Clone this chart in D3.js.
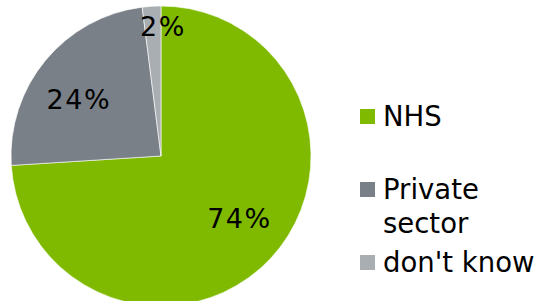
<!DOCTYPE html>
<html>
<head>
<meta charset="utf-8">
<script src="https://cdn.jsdelivr.net/npm/d3@7"></script>
<style>
  body { margin: 0; background: #fff; }
  svg { display: block; font-family: "DejaVu Sans", Verdana, sans-serif; }
</style>
</head>
<body>
<svg id="chart" width="540" height="301"></svg>
<script>
const categories = ['NHS', 'Private sector', "don't know"];
const values = [74, 24, 2];
const labels = ['74%', '24%', '2%'];
const legendLines = [['NHS'], ['Private', 'sector'], ["don't know"]];
const colors = ['#7fba00', '#798087', '#a9aeb2'];

const svg = d3.select('#chart');
const cx = 161, cy = 156, radius = 150;

const pie = d3.pie().sort(null).value(d => d)(values);
const arc = d3.arc().innerRadius(0).outerRadius(radius);
const g = svg.append('g').attr('transform', 'translate(' + cx + ',' + cy + ')');

g.selectAll('path')
  .data(pie)
  .enter()
  .append('path')
  .attr('d', arc)
  .attr('fill', (d, i) => colors[i])
  .attr('stroke', '#fff')
  .attr('stroke-width', 0.6);

// label spot: big slices a bit before the mid angle, tiny ones out at the rim by their end edge
const labelPos = d => {
  const small = (d.endAngle - d.startAngle) < 0.3;
  const r = small ? 130 : 100;
  const a = small ? d.endAngle + 0.015 : (d.startAngle + d.endAngle) / 2 - 0.085;
  return [Math.sin(a) * r, -Math.cos(a) * r];
};

g.selectAll('text.pct')
  .data(pie)
  .enter()
  .append('text')
  .attr('class', 'pct')
  .attr('x', d => labelPos(d)[0])
  .attr('y', d => labelPos(d)[1])
  .attr('dy', '0.36em')
  .attr('text-anchor', 'middle')
  .style('font-size', '27px')
  .style('letter-spacing', '1.5px')
  .attr('fill', '#000')
  .text((d, i) => labels[i]);

// legend
const legendY = d3.scalePoint().domain(categories).range([117, 263]);
const legend = svg.append('g');
const items = legend.selectAll('g')
  .data(categories)
  .enter()
  .append('g')
  .attr('transform', d => 'translate(360,' + legendY(d) + ')');

items.append('rect')
  .attr('x', 0)
  .attr('y', -8)
  .attr('width', 15)
  .attr('height', 15)
  .attr('fill', (d, i) => colors[i]);

items.append('text')
  .attr('x', 23)
  .attr('y', 9)
  .style('font-size', '27.5px')
  .attr('fill', '#000')
  .selectAll('tspan')
  .data((d, i) => legendLines[i])
  .enter()
  .append('tspan')
  .attr('x', 23)
  .attr('dy', (d, j) => j === 0 ? 0 : 34)
  .text(d => d);
</script>
</body>
</html>
